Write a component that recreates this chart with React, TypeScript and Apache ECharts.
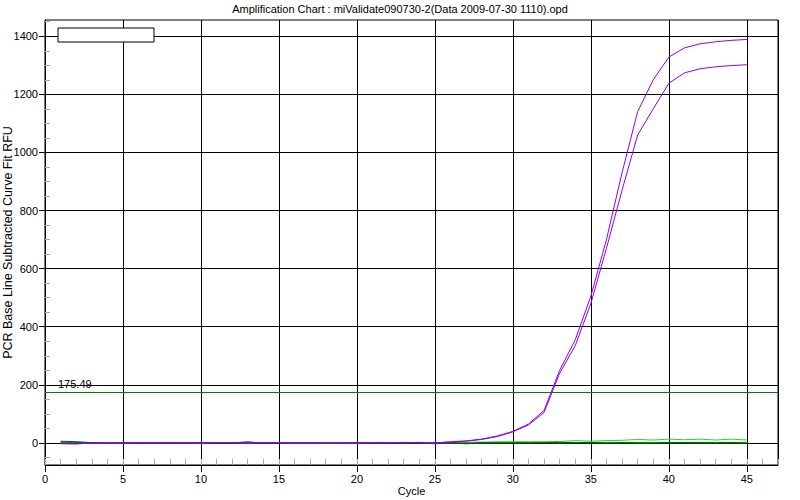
import React, { useEffect, useRef } from "react";
import * as echarts from "echarts";

const titleText = "Amplification Chart : miValidate090730-2(Data 2009-07-30 1110).opd";
const yName = "PCR Base Line Subtracted Curve Fit RFU";
const xName = "Cycle";
const threshold = 175.49;

const yMajorTicks = [0, 200, 400, 600, 800, 1000, 1200, 1400];
const yMinorTicks = [-50, 50, 100, 150, 250, 300, 350, 450, 500, 550, 650, 700, 750, 850, 900, 950, 1050, 1100, 1150, 1250, 1300, 1350, 1450];

const cycles = [1,2,3,4,5,6,7,8,9,10,11,12,13,14,15,16,17,18,19,20,21,22,23,24,25,26,27,28,29,30,31,32,33,34,35,36,37,38,39,40,41,42,43,44,45];

const purpleA = [-3,-3,-1,0,0,0,0,-1,-1,0,1,1,0,1,1,-1,-1,-2,0,0,0,0,2,1,0,4,7,13,24,40,65,112,250,355,505,700,930,1140,1250,1328,1360,1374,1381,1386,1389];
const purpleB = [-2,-3,-1,0,0,0,0,0,0,1,1,1,0,1,0,-2,-1,-2,0,0,1,0,1,2,0,3,6,12,22,38,62,105,240,335,480,670,870,1060,1150,1238,1274,1288,1295,1299,1302];
const lightGreenA = [2,1,0,0,0,1,0,1,1,0,1,1,0,1,1,0,0,0,0,0,1,1,1,1,0,1,2,3,4,4,4,4,5,8,6,8,9,12,10,13,11,13,10,13,10];
const lightGreenB = [1,1,0,0,0,1,0,1,1,0,1,1,0,1,1,0,0,0,0,0,1,1,1,1,0,1,1,1,1,1,1,1,1,1,2,2,2,2,2,2,2,2,2,2,2];
const darkGreenA = [6,4,1,0,0,1,1,0,0,1,0,0,4,-1,0,0,0,0,0,0,0,0,0,0,-3,0,-3,0,0,0,0,0,-1,0,0,-1,0,-1,-1,0,0,-1,0,0,-1];
const darkGreenB = [3,2,0,0,0,0,0,1,0,1,0,0,1,0,1,0,0,0,0,0,0,0,0,1,-1,0,-1,0,0,0,0,1,2,1,1,0,1,0,0,1,1,1,0,1,0];

const FONT = "'Liberation Sans', Arial, sans-serif";
const PURPLE = "#9000F0";
const LIGHT_GREEN = "#33CC33";
const DARK_GREEN = "#006000";

const pair = (vals: number[]) => cycles.map((c, i) => [c, vals[i]]);

export default function App() {
  const ref = useRef<HTMLDivElement>(null);
  useEffect(() => {
    document.body.style.margin = "0";
    const chart = echarts.init(ref.current!, undefined, { renderer: "svg" });
    const lineSeries = (name: string, vals: number[], color: string, extra: any = {}) => ({
      name,
      type: "line",
      xAxisIndex: 0,
      yAxisIndex: 0,
      data: pair(vals),
      showSymbol: false,
      symbol: "none",
      lineStyle: { color, width: 1 },
      itemStyle: { color },
      silent: true,
      z: 3,
      ...extra,
    });
    chart.setOption({
      animation: false,
      backgroundColor: "#fff",
      title: {
        text: titleText,
        left: "center",
        top: -2,
        textStyle: { fontFamily: FONT, fontSize: 11, fontWeight: "normal", color: "#000" },
      },
      grid: {
        left: 45,
        right: 22,
        top: 20,
        bottom: 35,
        containLabel: false,
        outerBoundsMode: "none",
        show: true,
        borderColor: "#000",
        borderWidth: 1,
        backgroundColor: "#fff",
      },
      xAxis: [
        {
          type: "value",
          min: 0,
          max: 47,
          interval: 5,
          name: xName,
          nameLocation: "middle",
          nameGap: 20,
          nameMoveOverlap: false,
          nameTextStyle: { fontFamily: FONT, fontSize: 11, color: "#000" },
          axisLine: { show: true, onZero: false, lineStyle: { color: "#000", width: 1 } },
          axisTick: { show: true, inside: false, length: 7, lineStyle: { color: "#000" } },
          axisLabel: { fontFamily: FONT, fontSize: 11, color: "#000", margin: 8, showMaxLabel: false },
          splitLine: { show: true, lineStyle: { color: "#000", width: 1 } },
        },
        {
          type: "value",
          position: "bottom",
          min: 0,
          max: 47,
          interval: 1,
          axisLine: { show: false, onZero: false },
          axisTick: { show: true, inside: true, length: 6, lineStyle: { color: "#aaa" } },
          axisLabel: { show: false },
          splitLine: { show: false },
        },
      ],
      yAxis: [
        {
          type: "value",
          min: -76,
          max: 1456,
          name: yName,
          nameLocation: "middle",
          nameGap: 31,
          nameMoveOverlap: false,
          nameTextStyle: { fontFamily: FONT, fontSize: 12.5, color: "#000" },
          axisLine: { show: true, onZero: false, lineStyle: { color: "#000", width: 1 } },
          axisTick: { show: true, inside: false, length: 6, lineStyle: { color: "#000" }, customValues: yMajorTicks },
          axisLabel: {
            fontFamily: FONT,
            fontSize: 11,
            color: "#000",
            margin: 7,
            customValues: yMajorTicks,
            formatter: (v: number) => String(v),
          },
          splitLine: { show: true, lineStyle: { color: "#000", width: 1 } },
        },
        {
          type: "value",
          position: "left",
          min: -76,
          max: 1456,
          axisLine: { show: false, onZero: false },
          axisTick: { show: true, inside: true, length: 5, lineStyle: { color: "#aaa" }, customValues: yMinorTicks },
          axisLabel: { show: false },
          splitLine: { show: false },
        },
      ],
      series: [
        lineSeries("green1", lightGreenB, LIGHT_GREEN, {
          markLine: {
            silent: true,
            symbol: "none",
            lineStyle: { color: "#008000", width: 1, type: "solid" },
            label: {
              show: true,
              position: "insideStartTop",
              formatter: "175.49",
              fontFamily: FONT,
              fontSize: 11,
              color: "#000",
              distance: [13, 2],
            },
            data: [{ yAxis: threshold }],
          },
        }),
        lineSeries("green2", lightGreenA, LIGHT_GREEN),
        lineSeries("dark1", darkGreenA, DARK_GREEN),
        lineSeries("dark2", darkGreenB, DARK_GREEN),
        lineSeries("purple1", purpleA, PURPLE),
        lineSeries("purple2", purpleB, PURPLE),
      ],
      graphic: [
        {
          type: "rect",
          shape: { x: 58, y: 28, width: 96, height: 14 },
          style: { fill: "#fff", stroke: "#000", lineWidth: 1 },
          z: 100,
        },
      ],
    });
    return () => chart.dispose();
  }, []);
  return <div ref={ref} style={{ width: 800, height: 500 }} />;
}
